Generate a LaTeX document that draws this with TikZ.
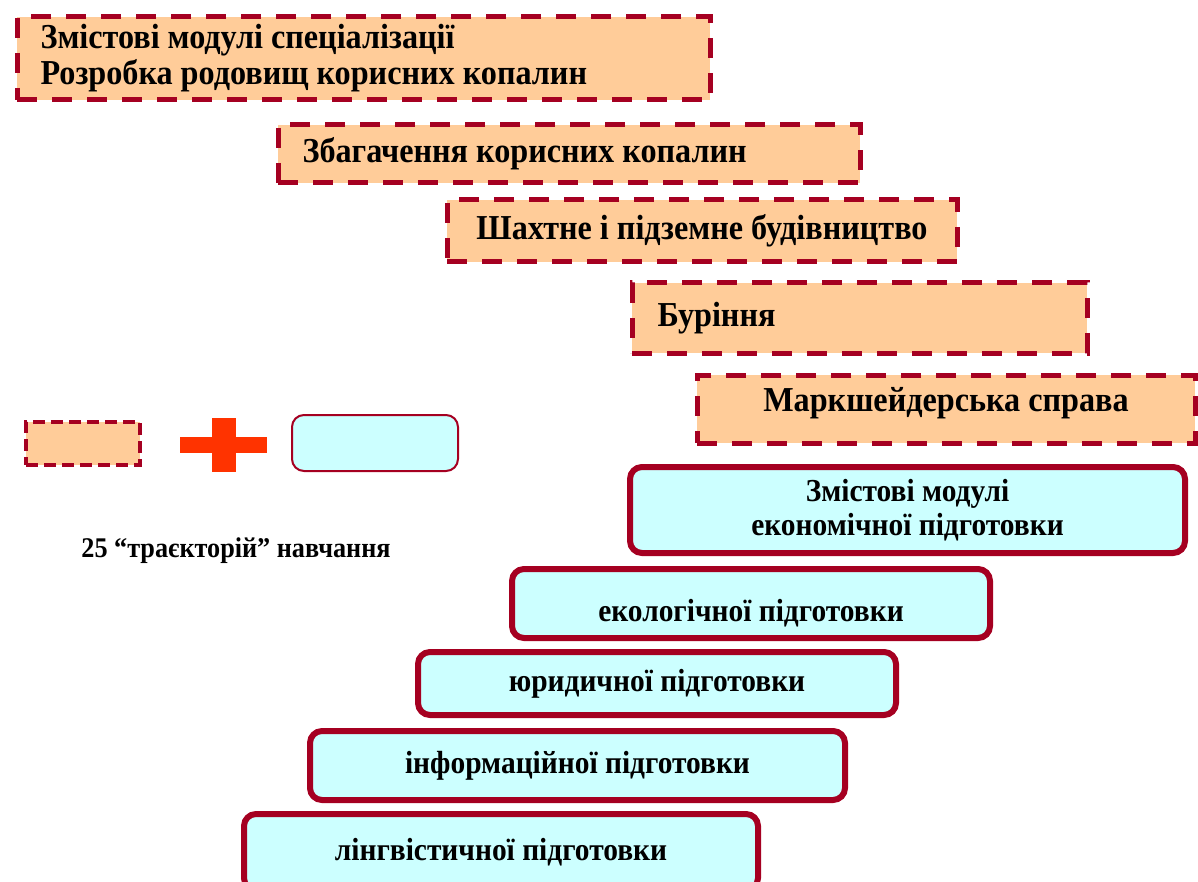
\documentclass[tikz,border=0pt]{standalone}
\usepackage{fontspec}
\setmainfont{Liberation Serif}[FakeStretch=0.92]
\definecolor{specfill}{HTML}{FFCC99}
\definecolor{frame}{HTML}{A50021}
\definecolor{ecofill}{HTML}{CCFFFF}
\definecolor{plus}{HTML}{FF3300}
\tikzset{
  specbox/.style={draw=frame, fill=specfill, line width=5pt, dash pattern=on 20pt off 15pt,
    anchor=north west, inner ysep=0pt, font=\bfseries\fontsize{35}{36}\selectfont},
  ecobox/.style={draw=frame, fill=ecofill, line width=6pt, rounded corners=12pt,
    anchor=north west, inner sep=0pt, align=center, font=\bfseries\fontsize{32}{34}\selectfont},
}
\begin{document}
\begin{tikzpicture}[x=1pt,y=-1pt]
\clip (0,0) rectangle (1198,882);
% modules of specialisation (dashed)
\node[specbox, minimum width=693pt, minimum height=83pt, inner xsep=23.5pt, text width=646pt, align=flush left] (spec1) at (14.5,14.5) {Змістові модулі спеціалізації\\Розробка родовищ корисних копалин};
\node[specbox, minimum width=582pt, minimum height=58pt, inner xsep=24.5pt, text width=533pt, align=flush left] (spec2) at (275.5,122.5) {Збагачення корисних копалин};
\node[specbox, minimum width=510pt, minimum height=62pt, align=center] (spec3) at (444.5,197.5) {Шахтне і підземне будівництво};
\node[specbox, minimum width=455pt, minimum height=70pt, inner xsep=25.5pt, text width=404pt, align=flush left] (spec4) at (629.5,280.5) {Буріння};
\node[specbox, minimum width=498pt, minimum height=68pt, align=center, text depth=20pt] (spec5) at (694.5,372.5) {Маркшейдерська справа};
% common modules (rounded)
\node[ecobox, minimum width=555pt, minimum height=86pt] (eco1) at (627,464) {Змістові модулі\\економічної підготовки};
\node[ecobox, minimum width=478pt, minimum height=69pt, text height=42pt, text depth=7pt] (eco2) at (509,566) {екологічної підготовки};
\node[ecobox, minimum width=478pt, minimum height=63pt] (eco3) at (415,649) {юридичної підготовки};
\node[ecobox, minimum width=535pt, minimum height=69pt] (eco4) at (307,728) {інформаційної підготовки};
\node[ecobox, minimum width=514pt, minimum height=76pt] (eco5) at (241,811) {лінгвістичної підготовки};
% legend
\node[specbox, line width=4pt, dash pattern=on 12pt off 6pt, minimum width=114pt, minimum height=43pt] (legspec) at (24,420) {};
\fill[plus] (180,437) rectangle (267,453);
\fill[plus] (212,418) rectangle (236,472);
\node[ecobox, line width=2pt, minimum width=166pt, minimum height=56pt] (legeco) at (291,414) {};
\node[font=\bfseries\fontsize{28.5}{30}\selectfont] (count) at (236,551) {25 “траєкторій” навчання};
\end{tikzpicture}
\end{document}
